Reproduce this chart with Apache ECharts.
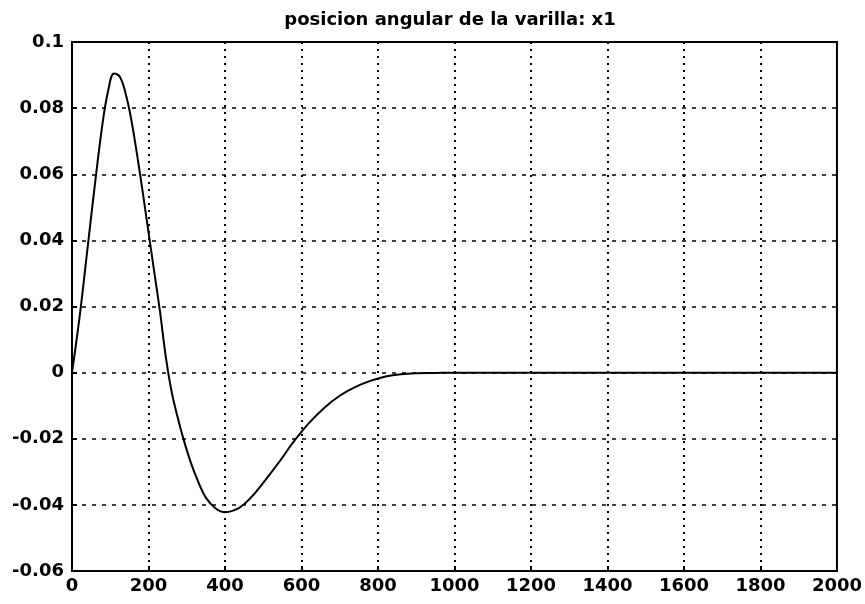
<!DOCTYPE html>
<html>
<head>
<meta charset="utf-8">
<script src="https://cdn.jsdelivr.net/npm/echarts@6/dist/echarts.min.js"></script>
<style>
  html, body { margin: 0; padding: 0; background: #fff; }
  #chart { width: 865px; height: 604px; }
</style>
</head>
<body>
<div id="chart"></div>
<script>
  // tiempo (eje x) y posicion angular x1
  var tiempo = [0, 20, 40, 60, 80, 95, 110, 125, 140, 155, 170, 185, 200, 215, 230, 245, 260, 275, 290, 310, 330, 350, 375, 400, 425, 450, 480, 510, 545, 580, 620, 660, 700, 740, 780, 820, 860, 900, 950, 1000, 1200, 1400, 1600, 1800, 2000]
  var x1 = [0, 0.017, 0.037, 0.057, 0.0755, 0.0855, 0.0905, 0.0895, 0.0845, 0.0765, 0.066, 0.0545, 0.0425, 0.0305, 0.0185, 0.005, -0.0055, -0.013, -0.0195, -0.027, -0.033, -0.0378, -0.041, -0.0422, -0.0416, -0.0398, -0.0362, -0.0318, -0.0265, -0.0208, -0.0152, -0.0106, -0.007, -0.0044, -0.0025, -0.0012, -0.0005, -0.0002, -0.0001, 0, 0, 0, 0, 0, 0]

  var xTicks = [0, 200, 400, 600, 800, 1000, 1200, 1400, 1600, 1800, 2000]
  var yTicks = [-0.06, -0.04, -0.02, 0, 0.02, 0.04, 0.06, 0.08, 0.1]

  var titulo = 'posicion angular de la varilla: x1'

  var labelFont = {
    color: '#000',
    fontFamily: 'DejaVu Sans',
    fontWeight: 'bold',
    fontSize: 18
  }

  var buildData = function () {
    var data = []
    for (var i = 0; i < tiempo.length; i++) {
      data.push([tiempo[i], x1[i]])
    }
    return data
  }

  var chart = echarts.init(document.getElementById('chart'), null, { renderer: 'canvas' })

  var option = {
    backgroundColor: '#fff',
    animation: false,
    title: {
      text: titulo,
      left: 445,
      textAlign: 'center',
      top: 6,
      textStyle: {
        color: '#000',
        fontFamily: 'DejaVu Sans',
        fontWeight: 'bold',
        fontSize: 18
      }
    },
    grid: {
      left: 72,
      right: 27,
      top: 42,
      bottom: 33,
      show: true,
      borderColor: '#000',
      borderWidth: 2,
      backgroundColor: 'transparent'
    },
    xAxis: {
      type: 'value',
      min: xTicks[0],
      max: xTicks[xTicks.length - 1],
      interval: 200,
      axisLine: { show: true, onZero: false, lineStyle: { color: '#000', width: 2 } },
      axisTick: { show: true, inside: true, length: 5, lineStyle: { color: '#000', width: 2 } },
      axisLabel: Object.assign({
        margin: 6,
        formatter: function (v) {
          return String(v)
        }
      }, labelFont),
      splitLine: {
        show: true,
        lineStyle: { color: '#000', width: 2, type: [2, 5] }
      }
    },
    yAxis: {
      type: 'value',
      min: yTicks[0],
      max: yTicks[yTicks.length - 1],
      interval: 0.02,
      axisLine: { show: true, onZero: false, lineStyle: { color: '#000', width: 2 } },
      axisTick: { show: true, inside: true, length: 5, lineStyle: { color: '#000', width: 2 } },
      axisLabel: Object.assign({
        margin: 8,
        formatter: function (v) {
          return String(Math.round(v * 100) / 100)
        }
      }, labelFont),
      splitLine: {
        show: true,
        lineStyle: { color: '#000', width: 1.5, type: [4, 6] }
      }
    },
    series: [
      {
        name: 'x1',
        type: 'line',
        data: buildData(),
        smooth: 0.4,
        showSymbol: false,
        lineStyle: { color: '#000', width: 2 }
      }
    ]
  }

  chart.setOption(option)
</script>
</body>
</html>
